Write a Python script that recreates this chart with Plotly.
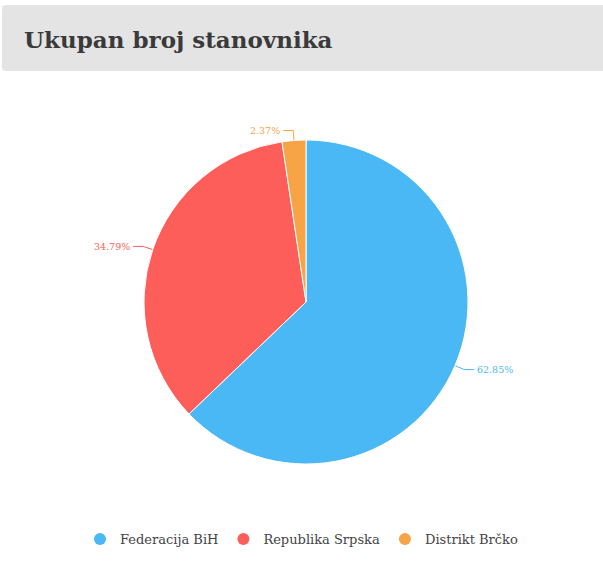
import math
import plotly.graph_objects as go

# Census 2013 population by entity
labels = ['Federacija BiH', 'Republika Srpska', 'Distrikt Brčko']
population = [2219220, 1228423, 83516]
colors = ['#4ab8f4', '#fe5e5a', '#f6a445']
title_text = 'Ukupan broj stanovnika'

W, H = 603, 578
cx, cy, r = 306, 302, 162   # pie centre and radius in pixels
seg1, seg2 = 10, 10         # leader line lengths

fig = go.Figure()

fig.add_trace(go.Pie(
    labels=labels,
    values=population,
    marker=dict(colors=colors, line=dict(color='white', width=1)),
    sort=False,
    direction='clockwise',
    rotation=0,
    textinfo='none',
    hoverinfo='label+percent',
    showlegend=False,
    domain=dict(x=[(cx - r) / W, (cx + r) / W],
                y=[(H - cy - r) / H, (H - cy + r) / H]),
))

# leader lines + percentage labels, placed from the slice angles
total = sum(population)
start = 0
for name, val, col in zip(labels, population, colors):
    frac = val / total
    mid = (start + frac / 2) * 2 * math.pi
    start += frac
    dx, dy = math.sin(mid), -math.cos(mid)
    x0, y0 = cx + r * dx, cy + r * dy
    x1, y1 = cx + (r + seg1) * dx, cy + (r + seg1) * dy
    side = 1 if dx >= 0 else -1
    x2 = x1 + seg2 * side
    fig.add_trace(go.Scatter(
        x=[x0, x1, x2], y=[y0, y1, y1], mode='lines',
        line=dict(color=col, width=1), showlegend=False, hoverinfo='skip'))
    fig.add_annotation(
        x=x2 + side, y=y1, xref='x', yref='y',
        text=f'{frac * 100:.2f}%', showarrow=False,
        xanchor='left' if side > 0 else 'right', yanchor='middle',
        font=dict(color=col, size=9.5, family='DejaVu Serif'))

# legend entries with round markers
for name, col in zip(labels, colors):
    fig.add_trace(go.Scatter(
        x=[None], y=[None], mode='markers', name=name,
        marker=dict(color=col, size=15, symbol='circle')))

# grey title bar with slightly rounded corners
bx0, bx1, by0, by1, rad = 2, W + 4, 5, 71, 4
bar = (f'M {bx0 + rad},{by0} L {bx1 - rad},{by0} Q {bx1},{by0} {bx1},{by0 + rad} '
       f'L {bx1},{by1 - rad} Q {bx1},{by1} {bx1 - rad},{by1} '
       f'L {bx0 + rad},{by1} Q {bx0},{by1} {bx0},{by1 - rad} '
       f'L {bx0},{by0 + rad} Q {bx0},{by0} {bx0 + rad},{by0} Z')
fig.add_shape(type='path', xref='x', yref='y', path=bar,
              fillcolor='#e4e4e4', line=dict(width=0), layer='below')
fig.add_annotation(
    x=22, y=39, xref='x', yref='y',
    text=f'<b>{title_text}</b>', showarrow=False,
    xanchor='left', yanchor='middle',
    font=dict(size=23, family='DejaVu Serif', color='#3a3a3a'))

fig.update_layout(
    width=W, height=H,
    margin=dict(l=0, r=0, t=0, b=0),
    paper_bgcolor='white',
    plot_bgcolor='white',
    xaxis=dict(range=[0, W], visible=False, fixedrange=True),
    yaxis=dict(range=[H, 0], visible=False, fixedrange=True),
    legend=dict(orientation='h', x=0.5, xanchor='center',
                y=(H - 539) / H, yanchor='middle',
                font=dict(size=13, family='DejaVu Serif', color='#444444'),
                itemsizing='constant', itemwidth=30),
)

fig.write_html('out.html', config={'displayModeBar': False},
               post_script="document.body.style.margin='0';")
